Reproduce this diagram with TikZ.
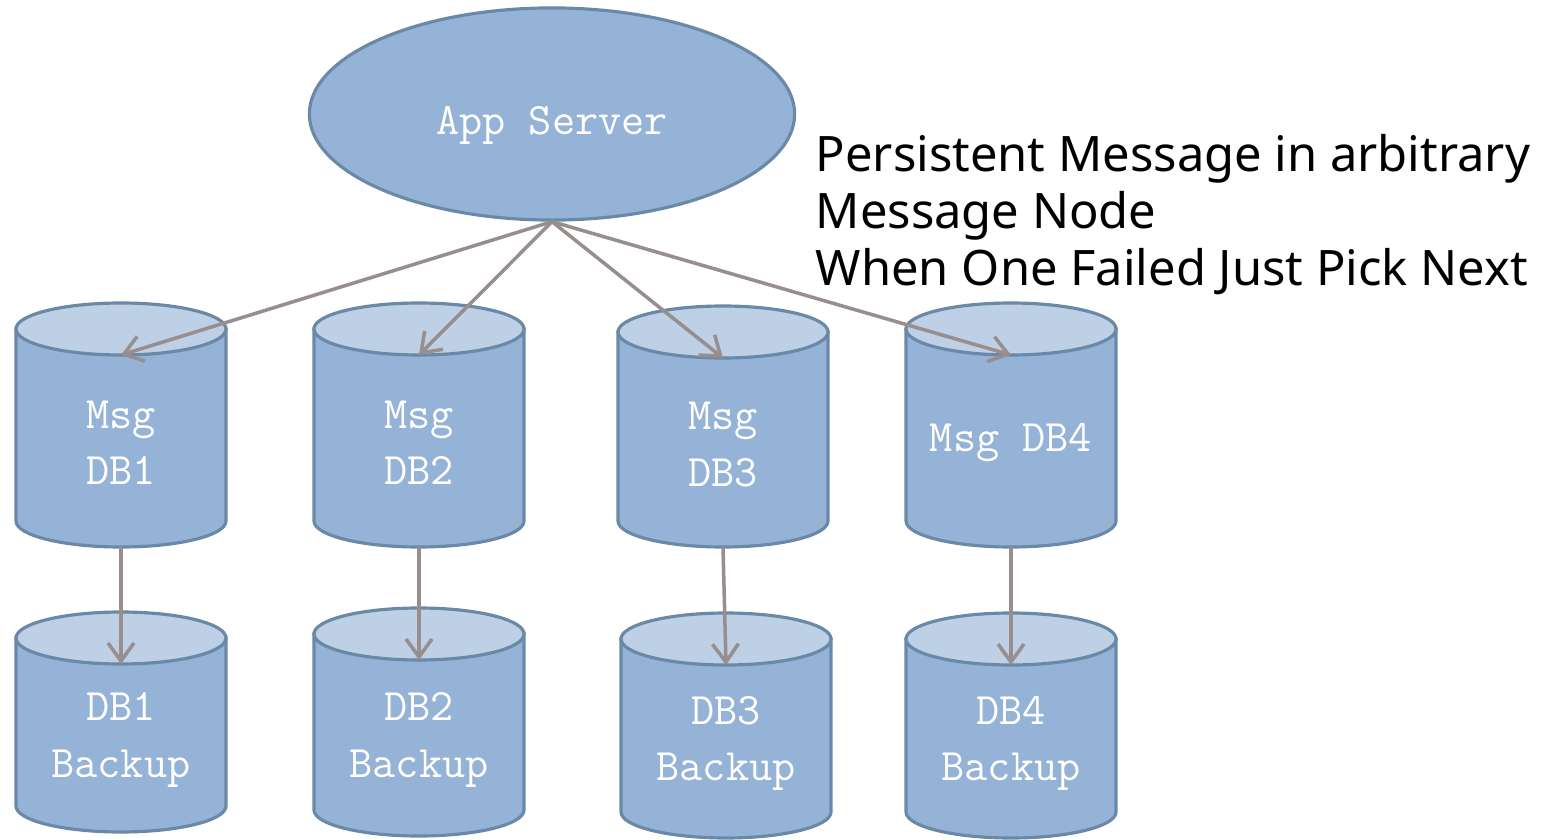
\documentclass[tikz,border=0pt]{standalone}
\usepackage{fontspec}
\setmainfont{Noto Sans}
\usetikzlibrary{shapes.geometric, arrows.meta}
\definecolor{dbfill}{HTML}{95B3D7}
\definecolor{dbtop}{HTML}{BDD0E6}
\definecolor{dbline}{HTML}{6A89A6}
\definecolor{linkgrey}{HTML}{988E8E}
\tikzset{
  dbtext/.style={text=white, align=center, inner sep=0pt, font=\fontsize{12.8}{16}\selectfont\ttfamily},
  link/.style={draw=linkgrey, line width=1pt, -{Straight Barb[length=1.8mm,width=2.6mm]}}
}
% database can: name, x, top, bottom, text
\newcommand{\dbcan}[5]{%
  \filldraw[draw=dbline, fill=dbfill, line width=0.9pt]
    (#2-105,#3+26) -- (#2-105,#4-26) arc[start angle=180, end angle=0, x radius=105, y radius=26]
    -- (#2+105,#3+26) -- cycle;
  \filldraw[draw=dbline, fill=dbtop, line width=0.9pt] (#2,#3+26) ellipse[x radius=105, y radius=26];
  \node[dbtext] (#1) at (#2,{(#3+#4)/2+18}) {#5};
  \coordinate (#1-in) at (#2,#3+52);
  \coordinate (#1-out) at (#2,#4);
}
\begin{document}
\begin{tikzpicture}[x=0.01cm, y=-0.01cm]
\useasboundingbox (0,0) rectangle (1555,840);
% app server
\node[ellipse, draw=dbline, fill=dbfill, line width=0.9pt, minimum width=4.85cm, minimum height=2.12cm,
  inner sep=0pt, text height=0.4cm, text depth=0cm, text=white, font=\fontsize{12.8}{16}\selectfont\ttfamily]
  (app) at (552,114) {App Server};
% message databases
\dbcan{msg1}{121}{303}{547}{Msg\\DB1}
\dbcan{msg2}{419}{303}{547}{Msg\\DB2}
\dbcan{msg3}{723}{306}{547}{Msg\\DB3}
\dbcan{msg4}{1011}{303}{547}{Msg DB4}
% backups
\dbcan{bak1}{121}{612}{832}{DB1\\Backup}
\dbcan{bak2}{419}{608}{836}{DB2\\Backup}
\dbcan{bak3}{726}{613}{838}{DB3\\Backup}
\dbcan{bak4}{1011}{613}{838}{DB4\\Backup}
% note
\node[anchor=north west, align=left, inner sep=0pt, font=\fontsize{13.9}{16.2}\selectfont] (note) at (815,134)
  {Persistent Message in arbitrary\\Message Node\\When One Failed Just Pick Next};
% links
\draw[link] (app.south) -- (msg1-in);
\draw[link] (app.south) -- (msg2-in);
\draw[link] (app.south) -- (msg3-in);
\draw[link] (app.south) -- (msg4-in);
\draw[link] (msg1-out) -- (bak1-in);
\draw[link] (msg2-out) -- (bak2-in);
\draw[link] (msg3-out) -- (bak3-in);
\draw[link] (msg4-out) -- (bak4-in);
\end{tikzpicture}
\end{document}
